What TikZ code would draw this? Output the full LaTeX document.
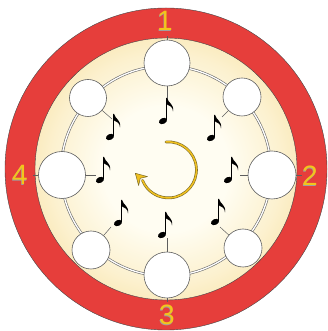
\documentclass[tikz,border=0pt]{standalone}
\usepackage{fontspec}
\newfontfamily\numfont{Liberation Sans}
\definecolor{ringred}{HTML}{E63E3B}
\definecolor{creamA}{HTML}{FFFDF2}
\definecolor{creamB}{HTML}{FCF1CF}
\definecolor{creamC}{HTML}{F9E5AE}
\definecolor{creamD}{HTML}{F5D891}
\definecolor{numyellow}{HTML}{F2C51C}
\definecolor{arrowyellow}{HTML}{F0C020}
\definecolor{arrowdark}{HTML}{7A6A25}
\definecolor{lineg}{HTML}{5E5E5E}
\pgfdeclareradialshading{creamshade}{\pgfpoint{0bp}{0bp}}{color(0bp)=(creamA); color(12bp)=(creamA); color(22bp)=(creamB); color(29bp)=(creamC); color(35.5bp)=(creamD); color(50bp)=(creamD)}
\tikzset{
  slot/.style={circle, draw=lineg, fill=white, line width=0.6pt, minimum size=#1, inner sep=0pt},
  conn/.style={draw=lineg, line width=0.5pt},
  num/.style={font=\numfont\fontsize{28}{28}\selectfont, text=numyellow, inner sep=0pt},
  numshadow/.style={font=\numfont\fontsize{28}{28}\selectfont, text=gray!75, inner sep=0pt},
  eighth/.pic={
    \fill[rotate=25] (0,0) ellipse[x radius=4.3, y radius=2.9];
    \fill (2.9,0.8) rectangle (4.1,23);
    \fill (3.0,23) -- (4.1,23) .. controls (5,18) and (11.5,17) .. (10,9.5)
          .. controls (10,14) and (6.5,15.5) .. (4.1,16.5) -- (3.0,16.5) -- cycle;
  }
}
\begin{document}
\begin{tikzpicture}[x=1pt,y=1pt]
\useasboundingbox (0,0) rectangle (327,331);
\fill[white] (0,0) rectangle (327,331);
\coordinate (C) at (166,162);
% cream disc
\shade[shading=creamshade] (C) circle[radius=131];
% red ring
\fill[ringred, even odd rule] (C) circle[radius=161] (C) circle[radius=131];
\draw[gray!55!black, line width=0.4pt] (C) circle[radius=161];
\draw[gray!55!black, line width=0.4pt] (C) circle[radius=131];
% double grey ring
\draw[draw=gray!85!black, double=white, line width=0.6pt, double distance=1.3pt] (166,160) circle[radius=105];
% slots
\node[slot=46pt] (T)  at (167,268) {};
\node[slot=38pt] (TR) at (242,234) {};
\node[slot=48pt] (R)  at (272,156) {};
\node[slot=38pt] (BR) at (243,83) {};
\node[slot=46pt] (B)  at (167,56) {};
\node[slot=38pt] (BL) at (91,81) {};
\node[slot=47pt] (L)  at (62,156) {};
\node[slot=37pt] (TL) at (88,233) {};
% connector ends
\coordinate (cT)  at (167,231);
\coordinate (cTR) at (222,214);
\coordinate (cR)  at (240,156);
\coordinate (cBR) at (220,104);
\coordinate (cB)  at (167,93);
\coordinate (cBL) at (111,104);
\coordinate (cL)  at (96,156);
\coordinate (cTL) at (112,212);
\foreach \s in {T,TR,R,BR,B,BL,L,TL} \draw[conn] (\s) -- (c\s);
% outer ticks
\coordinate (oT) at (167,295);
\coordinate (oR) at (302,156);
\coordinate (oB) at (167,29);
\coordinate (oL) at (33,156);
\foreach \s in {T,R,B,L} \draw[conn] (\s) -- (o\s);
% notes
\pic at (163,210) {eighth};
\pic at (211,193) {eighth};
\pic at (228,151) {eighth};
\pic at (215,109) {eighth};
\pic at (162,96) {eighth};
\pic at (118,108) {eighth};
\pic at (100,151) {eighth};
\pic at (110,194) {eighth};
% central arrow
\draw[line width=2.7pt, draw=arrowdark, line cap=round] (166,189) arc[start angle=95,end angle=-158,radius=28];
\draw[line width=1.5pt, draw=arrowyellow, line cap=round] (166,189) arc[start angle=95,end angle=-158,radius=28];
\begin{scope}[shift={(135.3,157.7)}, rotate=135]
\filldraw[fill=arrowyellow, draw=arrowdark, line width=0.5pt, line join=round] (0,0) -- (-11,6.3) -- (-7,0) -- (-11,-6.3) -- cycle;
\end{scope}
% numbers
\node[numshadow] (s1) at (164.3,309.5) {1};
\node[num] (n1) at (165,310) {1};
\node[numshadow] (s2) at (309.3,154.5) {2};
\node[num] (n2) at (310,155) {2};
\node[numshadow] (s3) at (166.3,15.5) {3};
\node[num] (n3) at (167,16) {3};
\node[numshadow] (s4) at (19.3,155.5) {4};
\node[num] (n4) at (20,156) {4};
\end{tikzpicture}
\end{document}
